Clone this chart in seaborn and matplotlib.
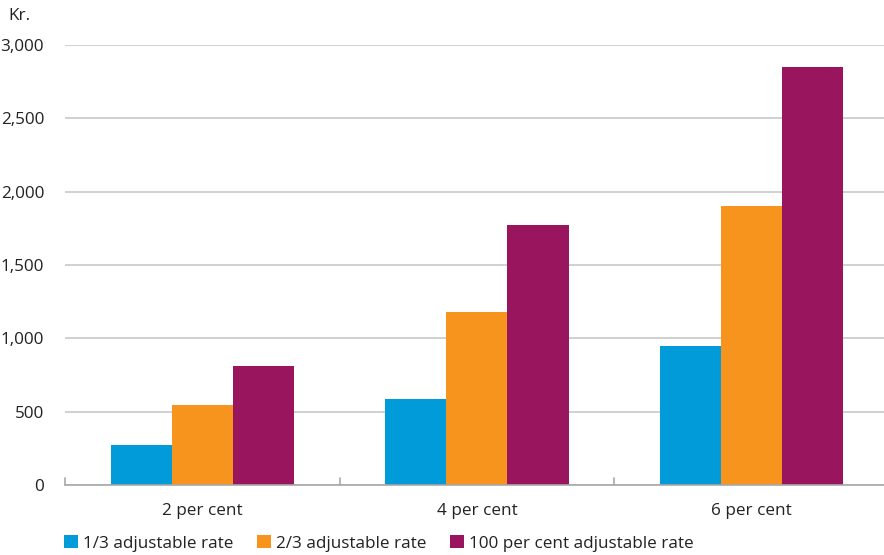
import matplotlib
matplotlib.use("Agg")
import matplotlib.pyplot as plt
import seaborn as sns
import pandas as pd
from matplotlib.patches import Patch

categories = ["2 per cent", "4 per cent", "6 per cent"]
series_names = ["1/3 adjustable rate", "2/3 adjustable rate", "100 per cent adjustable rate"]
one_third = [270, 590, 950]
two_thirds = [545, 1180, 1900]
full_rate = [810, 1770, 2850]
yticks = [0, 500, 1000, 1500, 2000, 2500, 3000]
ytick_labels = ["0", "500", "1,000", "1,500", "2,000", "2,500", "3,000"]
colors = ["#009BD8", "#F7941E", "#99155E"]

rows = []
for name, vals in zip(series_names, [one_third, two_thirds, full_rate]):
    for cat, v in zip(categories, vals):
        rows.append({"category": cat, "series": name, "value": v})
df = pd.DataFrame(rows)

sns.set_style("white")
plt.rcParams["font.family"] = ["Open Sans", "DejaVu Sans"]
FS = 12.3
TXT = "#222222"

fig = plt.figure(figsize=(8.84, 5.55), dpi=100)
ax = fig.add_axes([0.0735, 0.126, 0.932, 0.793])

sns.barplot(data=df, x="category", y="value", hue="series", hue_order=series_names,
            palette=colors, width=0.667, saturation=1, ax=ax, legend=False,
            linewidth=0, errorbar=None)

ax.set_ylim(0, 3000)
ax.set_xlim(-0.5, 2.5)
ax.set_yticks(yticks)
ax.set_yticklabels(ytick_labels)
ax.set_xlabel("")
ax.set_ylabel("")
ax.yaxis.grid(True, color="#c8c8c8", linewidth=1.2)
ax.set_axisbelow(True)
for s in ["left", "right", "top"]:
    ax.spines[s].set_visible(False)
ax.spines["bottom"].set_color("#a8a8a8")
ax.spines["bottom"].set_linewidth(1.2)

ax.tick_params(axis="y", length=0, labelsize=FS, labelcolor=TXT, pad=15)
ax.tick_params(axis="x", length=0, labelsize=FS, labelcolor=TXT, pad=13)
# category separator ticks on the baseline
for xb in [-0.5, 0.5, 1.5, 2.5]:
    ax.plot([xb, xb], [0, 50], color="#a8a8a8", linewidth=1.2, clip_on=False)

fig.text(0.009, 0.972, "Kr.", fontsize=FS, color=TXT, va="center", ha="left")

handles = [Patch(facecolor=c, edgecolor="none") for c in colors]
fig.legend(handles, series_names, loc="lower left", bbox_to_anchor=(0.055, -0.022),
           ncol=3, frameon=False, fontsize=FS, handlelength=0.8, handleheight=0.8,
           handletextpad=0.3, columnspacing=1.4, labelcolor=TXT)

fig.savefig("out.png", dpi=100)
